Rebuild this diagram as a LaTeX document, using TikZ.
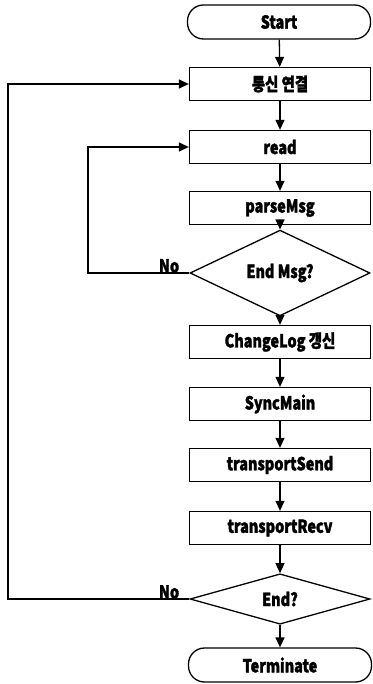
\documentclass[tikz,border=0pt]{standalone}
\usepackage{fontspec}
\setmainfont{Noto Sans CJK KR}[FakeStretch=0.8,BoldFeatures={FakeBold=1.6}]
\usetikzlibrary{shapes.geometric,arrows.meta}
\begin{document}
\begin{tikzpicture}[x=1pt,y=-1pt,
  every node/.style={font=\fontsize{18}{20}\selectfont\bfseries},
  procbox/.style={draw,line width=1.3pt,minimum width=181pt,minimum height=33pt,inner sep=0pt},
  termbox/.style={draw,line width=1.3pt,rounded corners=16pt,minimum width=183pt,minimum height=34pt,inner sep=0pt},
  decbox/.style={draw,diamond,line width=1.3pt,minimum width=180pt,minimum height=48pt,inner sep=0pt},
  flow/.style={line width=1.3pt,-{Triangle[length=10pt,width=9pt]}},
  lbl/.style={font=\fontsize{18}{20}\selectfont\bfseries,inner sep=1pt}]
\useasboundingbox (0,0) rectangle (372,684);
\node[termbox] (start) at (279,22) {Start};
\node[procbox] (conn) at (280,84) {통신 연결};
\node[procbox] (read) at (280,147) {read};
\node[procbox] (parse) at (280,208) {parseMsg};
\node[decbox] (endmsg) at (280,273) {End Msg?};
\node[procbox] (change) at (280,342) {ChangeLog 갱신};
\node[procbox] (sync) at (280,404) {SyncMain};
\node[procbox] (tsend) at (280,465) {transportSend};
\node[procbox] (trecv) at (280,528) {transportRecv};
\node[decbox] (endq) at (280,599) {End?};
\node[termbox] (term) at (280,665) {Terminate};
\draw[flow] (start) -- (conn);
\draw[flow] (conn) -- (read);
\draw[flow] (read) -- (parse);
\draw[flow] (parse) -- (endmsg);
\draw[flow] (endmsg) -- (change);
\draw[flow] (change) -- (sync);
\draw[flow] (sync) -- (tsend);
\draw[flow] (tsend) -- (trecv);
\draw[flow] (trecv) -- (endq);
\draw[flow] (endq) -- (term);
\coordinate (inner) at (88,273);
\coordinate (outer) at (8,599);
\draw[flow] (endmsg.west) -- (inner) |- (read.west);
\draw[flow] (endq.west) -- (outer) |- (conn.west);
\node[lbl,anchor=south east] (no1) at ([xshift=-9pt,yshift=-1pt]endmsg.west) {No};
\node[lbl,anchor=south east] (no2) at ([xshift=-9pt,yshift=-1pt]endq.west) {No};
\end{tikzpicture}
\end{document}
